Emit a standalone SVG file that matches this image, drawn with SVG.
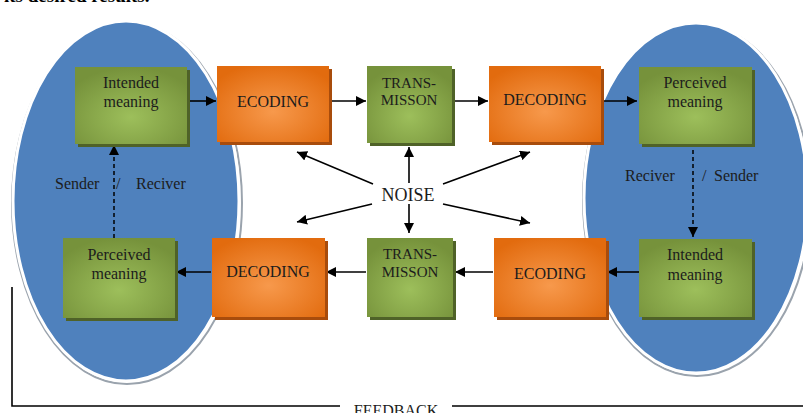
<svg xmlns="http://www.w3.org/2000/svg" width="803" height="413" viewBox="0 0 803 413">
<defs>
<radialGradient id="gGreen" cx="50%" cy="65%" r="65%">
<stop offset="0" stop-color="#9dbf5b"/>
<stop offset="1" stop-color="#76923b"/>
</radialGradient>
<radialGradient id="gOrange" cx="50%" cy="60%" r="65%">
<stop offset="0" stop-color="#f7994c"/>
<stop offset="1" stop-color="#e26b0e"/>
</radialGradient>
<marker id="ah" viewBox="0 0 10 10" refX="10" refY="5" markerWidth="10" markerHeight="10" markerUnits="userSpaceOnUse" orient="auto">
<path d="M0,0 L10,5 L0,10 z" fill="#000"/>
</marker>
</defs>
<style>
.t{font-family:"Liberation Serif","Times New Roman",serif;fill:#1c1c1c;text-anchor:middle}
.box{font-size:16px}
.gr{fill:url(#gGreen)}
.or{fill:url(#gOrange)}
.gs{fill:#4f6228}
.os{fill:#a84c0c}
.ln{stroke:#000;stroke-width:1.6;fill:none}
.dash{stroke:#000;stroke-width:1.5;stroke-dasharray:4,3;fill:none}
.ell{fill:#4f81bd;stroke:#fff;stroke-width:3}
.ellsh{fill:none;stroke:#9aa3ad;stroke-width:2}
</style>
<rect width="803" height="413" fill="#fff"/>
<text x="4" y="2" style="font-family:'Liberation Serif',serif;font-size:19px;font-weight:bold;fill:#000">its desired results.</text>

<g id="sender-ellipse">
<ellipse cx="127" cy="203" rx="115" ry="181" class="ellsh"/>
<ellipse cx="126" cy="201" rx="113" ry="180" class="ell"/>
</g>
<g id="receiver-ellipse">
<ellipse cx="697" cy="200" rx="114" ry="176" class="ellsh"/>
<ellipse cx="696" cy="198" rx="112" ry="175" class="ell"/>
</g>

<g id="feedback">
<path class="ln" d="M12,287 V406 H340 M452,406 H803" stroke="#222"/>
<text class="t" x="396" y="416" style="font-size:16px">FEEDBACK</text>
</g>

<g id="connectors">
<line class="ln" x1="187" y1="101" x2="216" y2="101" marker-end="url(#ah)"/>
<line class="ln" x1="330" y1="101" x2="366" y2="101" marker-end="url(#ah)"/>
<line class="ln" x1="452" y1="101" x2="488" y2="101" marker-end="url(#ah)"/>
<line class="ln" x1="602" y1="101" x2="637" y2="101" marker-end="url(#ah)"/>
<line class="ln" x1="639" y1="272" x2="607" y2="272" marker-end="url(#ah)"/>
<line class="ln" x1="493" y1="272" x2="455" y2="272" marker-end="url(#ah)"/>
<line class="ln" x1="366" y1="272" x2="326" y2="272" marker-end="url(#ah)"/>
<line class="ln" x1="211" y1="272" x2="176" y2="272" marker-end="url(#ah)"/>
<line class="dash" x1="114" y1="238" x2="114" y2="145" marker-end="url(#ah)"/>
<line class="dash" x1="693" y1="143" x2="693" y2="237" marker-end="url(#ah)"/>
<line class="ln" x1="373" y1="184" x2="297" y2="152" marker-end="url(#ah)"/>
<line class="ln" x1="409" y1="183" x2="409" y2="147" marker-end="url(#ah)"/>
<line class="ln" x1="443" y1="184" x2="530" y2="152" marker-end="url(#ah)"/>
<line class="ln" x1="372" y1="204" x2="297" y2="222" marker-end="url(#ah)"/>
<line class="ln" x1="409" y1="204" x2="409" y2="233" marker-end="url(#ah)"/>
<line class="ln" x1="443" y1="204" x2="530" y2="223" marker-end="url(#ah)"/>
</g>

<g id="noise"><text class="t" x="408" y="201" style="font-size:18px">NOISE</text></g>
<g id="label-left"><text class="t" y="189" style="font-size:16px;text-anchor:start"><tspan x="55">Sender</tspan><tspan x="116">/</tspan><tspan x="136">Reciver</tspan></text></g>
<g id="label-right"><text class="t" style="font-size:16px;text-anchor:start" y="181"><tspan x="625">Reciver</tspan><tspan x="702">/</tspan><tspan x="714">Sender</tspan></text></g>

<g id="intended-1">
<rect class="gs" x="78" y="70" width="112" height="77"/>
<rect class="gr" x="75" y="67" width="112" height="77"/>
<text class="t box" x="131" y="88">Intended</text>
<text class="t box" x="131" y="107">meaning</text>
</g>
<g id="ecoding-1">
<rect class="os" x="220" y="69" width="112" height="76"/>
<rect class="or" x="217" y="66" width="112" height="76"/>
<text class="t box" x="273" y="107">ECODING</text>
</g>
<g id="transmission-1">
<rect class="gs" x="370" y="69" width="85" height="77"/>
<rect class="gr" x="367" y="66" width="85" height="77"/>
<text class="t" x="409" y="88" style="font-size:15px">TRANS-</text>
<text class="t" x="409" y="105" style="font-size:15px">MISSON</text>
</g>
<g id="decoding-1">
<rect class="os" x="492" y="69" width="112" height="76"/>
<rect class="or" x="489" y="66" width="112" height="76"/>
<text class="t box" x="545" y="105">DECODING</text>
</g>
<g id="perceived-1">
<rect class="gs" x="642" y="70" width="113" height="77"/>
<rect class="gr" x="639" y="67" width="113" height="77"/>
<text class="t box" x="695" y="88">Perceived</text>
<text class="t box" x="695" y="107">meaning</text>
</g>
<g id="intended-2">
<rect class="gs" x="642" y="242" width="113" height="78"/>
<rect class="gr" x="639" y="239" width="113" height="78"/>
<text class="t box" x="695" y="260">Intended</text>
<text class="t box" x="695" y="280">meaning</text>
</g>
<g id="ecoding-2">
<rect class="os" x="497" y="241" width="112" height="79"/>
<rect class="or" x="494" y="238" width="112" height="79"/>
<text class="t box" x="550" y="279">ECODING</text>
</g>
<g id="transmission-2">
<rect class="gs" x="370" y="241" width="86" height="79"/>
<rect class="gr" x="367" y="238" width="86" height="79"/>
<text class="t" x="410" y="259" style="font-size:15px">TRANS-</text>
<text class="t" x="410" y="277" style="font-size:15px">MISSON</text>
</g>
<g id="decoding-2">
<rect class="os" x="215" y="241" width="113" height="79"/>
<rect class="or" x="212" y="238" width="113" height="79"/>
<text class="t box" x="268" y="277">DECODING</text>
</g>
<g id="perceived-2">
<rect class="gs" x="66" y="241" width="112" height="80"/>
<rect class="gr" x="63" y="238" width="112" height="80"/>
<text class="t box" x="119" y="260">Perceived</text>
<text class="t box" x="119" y="279">meaning</text>
</g>
</svg>
